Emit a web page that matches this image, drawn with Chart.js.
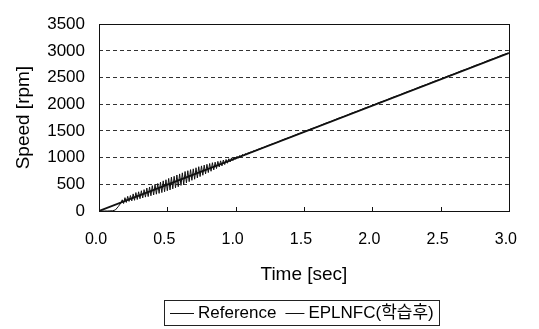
<!DOCTYPE html>
<html>
<head>
<meta charset="utf-8">
<script src="https://cdn.jsdelivr.net/npm/chart.js@4/dist/chart.umd.min.js"></script>
<style>
  html, body { margin: 0; padding: 0; background: #fff; }
  #wrap { width: 539px; height: 329px; position: relative; }
</style>
</head>
<body>
<div id="wrap"><canvas id="chart"></canvas></div>
<script>
const FONT = '"Liberation Sans", Arial, "Noto Sans CJK KR", sans-serif';

// Reference command: straight ramp
const refTime  = [0.0, 3.0];
const refSpeed = [0, 2960];

// EPLNFC (after learning): dead time, then oscillation around the ramp that dies out
const eplTime = [
  0.00, 0.02, 0.04, 0.06, 0.08, 0.10, 0.12, 0.14, 0.16, 0.17,
  0.18, 0.19, 0.20, 0.21, 0.22, 0.23, 0.24, 0.25, 0.26, 0.27,
  0.28, 0.29, 0.30, 0.31, 0.32, 0.33, 0.34, 0.35, 0.36, 0.37,
  0.38, 0.39, 0.40, 0.41, 0.42, 0.43, 0.44, 0.45, 0.46, 0.47,
  0.48, 0.49, 0.50, 0.51, 0.52, 0.53, 0.54, 0.55, 0.56, 0.57,
  0.58, 0.59, 0.60, 0.61, 0.62, 0.63, 0.64, 0.65, 0.66, 0.67,
  0.68, 0.69, 0.70, 0.71, 0.72, 0.73, 0.74, 0.75, 0.76, 0.77,
  0.78, 0.79, 0.80, 0.81, 0.82, 0.83, 0.84, 0.85, 0.86, 0.87,
  0.88, 0.89, 0.90, 0.91, 0.92, 0.93, 0.94, 0.95, 0.96, 0.97,
  0.98, 0.99, 1.00, 1.01, 1.02, 1.03, 1.04, 1.05, 1.06, 1.07,
  1.08, 1.09, 1.10, 1.11, 1.12, 1.13, 1.14, 1.15, 1.16, 1.17,
  1.18, 1.19, 1.20, 1.25, 1.30, 1.35, 1.40, 1.45, 1.50, 1.55,
  1.60, 1.65, 1.70, 1.75, 1.80, 1.85, 1.90, 1.95, 2.00, 2.05,
  2.10, 2.15, 2.20, 2.25, 2.30, 2.35, 2.40, 2.45, 2.50, 2.55,
  2.60, 2.65, 2.70, 2.75, 2.80, 2.85, 2.90, 2.95, 3.00
];
const eplSpeed = [
  0, 0, 0, 0, 2, 5, 20, 80, 150, 210,
  140, 250, 160, 275, 180, 290, 190, 320, 200, 345,
  215, 360, 230, 380, 245, 400, 260, 430, 270, 450,
  285, 475, 300, 500, 315, 515, 330, 540, 345, 565,
  360, 585, 380, 610, 395, 635, 415, 650, 435, 675,
  455, 695, 480, 715, 500, 740, 525, 755, 550, 775,
  575, 790, 595, 810, 620, 830, 645, 845, 670, 860,
  695, 875, 720, 890, 745, 905, 770, 915, 795, 930,
  825, 940, 845, 955, 870, 965, 895, 980, 920, 995,
  945, 1010, 970, 1025, 990, 1040, 1012, 1060, 1032, 1075,
  1055, 1092, 1078, 1108, 1098, 1128, 1118, 1142, 1142, 1162,
  1163, 1182, 1185, 1240, 1282, 1340, 1383, 1438, 1482, 1537,
  1580, 1636, 1680, 1735, 1778, 1834, 1878, 1933, 1976, 2032,
  2075, 2130, 2174, 2229, 2273, 2328, 2372, 2427, 2470, 2526,
  2570, 2625, 2668, 2724, 2767, 2823, 2867, 2922, 2962
];

const seriesNames = ['Reference', 'EPLNFC(학습후)'];
const xTicks = [0.0, 0.5, 1.0, 1.5, 2.0, 2.5, 3.0];

const pairs = (xs, ys) => xs.map((x, i) => ({ x: x, y: ys[i] }));

// plot frame, inward tick marks on the time axis, boxed legend under the axis title
const framePlugin = {
  id: 'frame',
  afterDraw(chart) {
    const { ctx, chartArea: a, scales } = chart;
    ctx.save();
    ctx.strokeStyle = '#111';
    ctx.lineWidth = 1;
    ctx.strokeRect(Math.round(a.left) + 0.5, Math.round(a.top) + 0.5,
                   Math.round(a.right - a.left), Math.round(a.bottom - a.top));
    ctx.beginPath();
    xTicks.slice(1, -1).forEach(v => {
      const px = Math.round(scales.x.getPixelForValue(v)) + 0.5;
      ctx.moveTo(px, a.bottom);
      ctx.lineTo(px, a.bottom - 4);
    });
    ctx.stroke();

    // legend
    ctx.font = '17px ' + FONT;
    ctx.fillStyle = '#000';
    ctx.textBaseline = 'middle';
    const y = 313;
    let x = 170;
    const lineLens = [24, 19];
    const boxLeft = x - 6;
    chart.data.datasets.forEach((ds, i) => {
      ctx.beginPath();
      ctx.strokeStyle = ds.borderColor;
      ctx.lineWidth = 1;
      ctx.moveTo(x, y + 0.5);
      ctx.lineTo(x + lineLens[i], y + 0.5);
      ctx.stroke();
      x += lineLens[i] + 4;
      ctx.fillText(ds.label, x, y);
      x += ctx.measureText(ds.label).width + 9;
    });
    const boxRight = x - 9 + 5;
    ctx.strokeStyle = '#222';
    ctx.strokeRect(boxLeft + 0.5, 300.5, Math.round(boxRight - boxLeft), 25);
    ctx.restore();
  }
};

const ctx = document.getElementById('chart').getContext('2d');
new Chart(ctx, {
  type: 'line',
  data: {
    datasets: [
      {
        label: seriesNames[0],
        data: pairs(refTime, refSpeed),
        borderColor: '#111',
        borderWidth: 1.8,
        pointRadius: 0,
        tension: 0
      },
      {
        label: seriesNames[1],
        data: pairs(eplTime, eplSpeed),
        borderColor: '#111',
        borderWidth: 1,
        pointRadius: 0,
        tension: 0
      }
    ]
  },
  options: {
    responsive: true,
    maintainAspectRatio: false,
    animation: false,
    layout: { padding: { left: 0, right: 22, top: 20, bottom: 38.6 } },
    plugins: {
      legend: { display: false },
      tooltip: { enabled: false }
    },
    scales: {
      x: {
        type: 'linear',
        min: 0,
        max: 3,
        afterBuildTicks: s => { s.ticks = xTicks.map(v => ({ value: v })); },
        afterFit: s => { s.height = 79.4; },
        grid: { display: false, drawTicks: false },
        border: { display: false },
        ticks: {
          font: { family: FONT, size: 16 },
          color: '#000',
          padding: 19,
          labelOffset: -3,
          maxRotation: 0,
          callback: v => Number(v).toFixed(1)
        },
        title: {
          display: true,
          text: 'Time [sec]',
          font: { family: FONT, size: 19 },
          color: '#000',
          padding: { top: 4, bottom: 4 }
        }
      },
      y: {
        min: 0,
        max: 3500,
        afterFit: s => { s.width = 99; },
        ticks: {
          stepSize: 500,
          font: { family: FONT, size: 17 },
          color: '#000',
          padding: 14,
          callback: v => String(v)
        },
        grid: {
          drawTicks: false,
          color: c => (c.tick && (c.tick.value === 0 || c.tick.value === 3500)) ? 'rgba(0,0,0,0)' : '#333',
          lineWidth: 1
        },
        border: { display: false, dash: [4, 3] },
        title: {
          display: true,
          text: 'Speed [rpm]',
          font: { family: FONT, size: 19 },
          color: '#000',
          padding: { top: 12.6, bottom: 4 }
        }
      }
    }
  },
  plugins: [framePlugin]
});
</script>
</body>
</html>
